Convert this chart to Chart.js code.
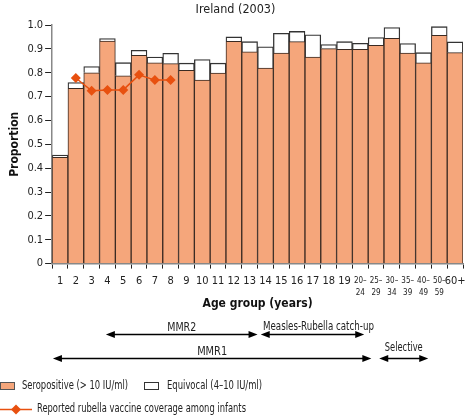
<!DOCTYPE html>
<html>
<head>
<meta charset="utf-8">
<script src="https://cdn.jsdelivr.net/npm/chart.js@4.4.0/dist/chart.umd.min.js"></script>
<style>
    body { margin: 0; background: #fff; }
    #wrap { width: 468px; height: 415px; }
</style>
</head>
<body>
<div id="wrap"><canvas id="chart" width="468" height="415"></canvas></div>
<script>
// Age groups on the x axis
const ageGroups = ['1', '2', '3', '4', '5', '6', '7', '8', '9', '10', '11', '12', '13',
    '14', '15', '16', '17', '18', '19', ['20–', '24'], ['25–', '29'], ['30–', '34'],
    ['35–', '39'], ['40–', '49'], ['50–', '59'], '60+'];

// Proportions
const seropositive = [0.445, 0.735, 0.800, 0.933, 0.787, 0.873, 0.841, 0.838, 0.810, 0.769,
    0.798, 0.932, 0.888, 0.819, 0.882, 0.930, 0.866, 0.901, 0.898, 0.898, 0.915, 0.944,
    0.882, 0.841, 0.957, 0.884];
const equivocal = [0.010, 0.024, 0.026, 0.010, 0.055, 0.021, 0.025, 0.043, 0.030, 0.086,
    0.042, 0.018, 0.042, 0.090, 0.083, 0.043, 0.093, 0.017, 0.032, 0.025, 0.032, 0.045,
    0.040, 0.043, 0.036, 0.045];
const coverage = [null, 0.778, 0.724, 0.728, 0.728, 0.791, 0.769, 0.769, null, null, null,
    null, null, null, null, null, null, null, null, null, null, null, null, null, null, null];

const yTicks = [0, 0.1, 0.2, 0.3, 0.4, 0.5, 0.6, 0.7, 0.8, 0.9, 1.0];

// Vaccination programmes shown under the axis (age-group index range)
const programmes = [
    {label: 'MMR2', from: 2.9, to: 12.5, row: 0},
    {label: 'Measles-Rubella catch-up', from: 12.7, to: 19.25, row: 0},
    {label: 'MMR1', from: -0.45, to: 19.7, row: 1},
    {label: 'Selective', from: 20.2, to: 23.3, row: 1},
];

const FONT = '"DejaVu Sans Condensed", "Liberation Sans", sans-serif';
const ORANGE = '#f5a67b';
const RED = '#e8500f';

// the original uses a narrow face, so squeeze text to the width it takes there
const fitText = (ctx, text, x, y, width) => {
    const w = ctx.measureText(text).width;
    ctx.save();
    ctx.translate(x, y);
    ctx.scale(Math.min(1, width / w), 1);
    ctx.fillText(text, 0, 0);
    ctx.restore();
};

const drawArrow = (ctx, x1, x2, y) => {
    const h = 9, w = 3.5;
    ctx.beginPath();
    ctx.moveTo(x1 + h - 1, y);
    ctx.lineTo(x2 - h + 1, y);
    ctx.lineWidth = 1.5;
    ctx.strokeStyle = '#000';
    ctx.stroke();
    ctx.beginPath();
    ctx.moveTo(x1, y);
    ctx.lineTo(x1 + h, y - w);
    ctx.lineTo(x1 + h, y + w);
    ctx.closePath();
    ctx.moveTo(x2, y);
    ctx.lineTo(x2 - h, y - w);
    ctx.lineTo(x2 - h, y + w);
    ctx.closePath();
    ctx.fillStyle = '#000';
    ctx.fill();
};

const labelWidths = {'MMR2': 29, 'Measles-Rubella catch-up': 111, 'MMR1': 30, 'Selective': 38};

const extrasPlugin = {
    id: 'extras',
    afterDraw(chart) {
        const ctx = chart.ctx;
        const x = chart.scales.x;
        ctx.save();
        ctx.font = '12px ' + FONT;
        ctx.textAlign = 'center';
        ctx.textBaseline = 'alphabetic';
        programmes.forEach(p => {
            const x1 = x.getPixelForValue(p.from);
            const x2 = x.getPixelForValue(p.to);
            const ay = p.row === 0 ? 334.5 : 358.5;
            let ty = p.row === 0 ? 331 : 355;
            let tx = (x1 + x2) / 2;
            if (p.label === 'Measles-Rubella catch-up') { tx += 6; ty -= 1; }
            if (p.label === 'Selective') { ty -= 4; }
            drawArrow(ctx, x1, x2, ay);
            ctx.fillStyle = '#222';
            fitText(ctx, p.label, tx, ty, labelWidths[p.label]);
        });

        // legend
        ctx.textAlign = 'left';
        ctx.textBaseline = 'middle';
        ctx.font = '12px ' + FONT;
        ctx.lineWidth = 1;
        ctx.fillStyle = ORANGE;
        ctx.fillRect(0.5, 382.5, 14, 7);
        ctx.strokeStyle = '#555';
        ctx.strokeRect(0.5, 382.5, 14, 7);
        ctx.fillStyle = '#222';
        fitText(ctx, 'Seropositive (> 10 IU/ml)', 22, 386, 106);
        ctx.fillStyle = '#fff';
        ctx.fillRect(144.5, 382.5, 14, 7);
        ctx.strokeStyle = '#333';
        ctx.strokeRect(144.5, 382.5, 14, 7);
        ctx.fillStyle = '#222';
        fitText(ctx, 'Equivocal (4–10 IU/ml)', 167, 386, 95);

        ctx.beginPath();
        ctx.moveTo(0, 409.5);
        ctx.lineTo(32, 409.5);
        ctx.lineWidth = 1.5;
        ctx.strokeStyle = RED;
        ctx.stroke();
        ctx.beginPath();
        ctx.moveTo(16, 404.5);
        ctx.lineTo(21, 409.5);
        ctx.lineTo(16, 414.5);
        ctx.lineTo(11, 409.5);
        ctx.closePath();
        ctx.fillStyle = RED;
        ctx.fill();
        ctx.fillStyle = '#222';
        fitText(ctx, 'Reported rubella vaccine coverage among infants', 37, 409, 209);
        ctx.restore();
    }
};

const tickFont = ctx => {
    const lab = ageGroups[ctx.index];
    if (Array.isArray(lab)) return {family: FONT, size: 8, lineHeight: 1.5};
    return {family: FONT, size: 11};
};

new Chart(document.getElementById('chart'), {
    type: 'bar',
    data: {
        labels: ageGroups,
        datasets: [
            {
                type: 'line',
                label: 'Reported rubella vaccine coverage among infants',
                data: coverage,
                borderColor: RED,
                backgroundColor: RED,
                borderWidth: 1.5,
                showLine: true,
                spanGaps: false,
                pointStyle: 'rectRot',
                pointRadius: 5,
                pointHoverRadius: 5,
                pointBorderWidth: 0,
                stack: 'line',
                order: 0,
            },
            {
                label: 'Seropositive (> 10 IU/ml)',
                data: seropositive,
                backgroundColor: ORANGE,
                borderColor: '#3a2a22',
                borderWidth: 1,
                barPercentage: 1,
                categoryPercentage: 1,
                stack: 'bars',
                order: 1,
            },
            {
                label: 'Equivocal (4–10 IU/ml)',
                data: equivocal,
                backgroundColor: '#fff',
                borderColor: '#333',
                borderWidth: 1.3,
                barPercentage: 1,
                categoryPercentage: 1,
                stack: 'bars',
                order: 1,
            },
        ],
    },
    options: {
        responsive: false,
        animation: false,
        events: [],
        layout: {padding: {left: 8, right: 5, top: 0, bottom: 104}},
        plugins: {
            legend: {display: false},
            tooltip: {enabled: false},
            title: {
                display: true,
                text: 'Ireland (2003)',
                color: '#222',
                font: {family: FONT, size: 12.5, weight: 'normal'},
                padding: {top: 2, bottom: 8},
            },
        },
        scales: {
            x: {
                stacked: true,
                offset: true,
                // let the "60+" label hang past the last bar like in the original
                afterFit: axis => { axis.paddingRight = 0; },
                grid: {display: true, drawOnChartArea: false, offset: true, tickLength: 5, color: '#222'},
                border: {color: '#888', width: 1.5},
                ticks: {
                    color: '#222',
                    padding: 6,
                    maxRotation: 0,
                    autoSkip: false,
                    font: tickFont,
                },
                title: {
                    display: true,
                    text: 'Age group (years)',
                    color: '#111',
                    font: {family: FONT, size: 12, weight: 'bold'},
                    padding: {top: -8, bottom: 0},
                },
            },
            y: {
                stacked: true,
                min: 0,
                max: 1,
                afterBuildTicks: axis => { axis.ticks = yTicks.map(v => ({value: v})); },
                grid: {display: true, drawOnChartArea: false, tickLength: 7, color: '#222'},
                border: {color: '#888', width: 1.5},
                ticks: {
                    color: '#222',
                    padding: 2,
                    font: {family: FONT, size: 11},
                    callback: v => v === 0 ? '0' : v.toFixed(1),
                },
                title: {
                    display: true,
                    text: 'Proportion',
                    color: '#111',
                    font: {family: FONT, size: 12, weight: 'bold'},
                    padding: {top: 0, bottom: 3},
                },
            },
        },
    },
    plugins: [extrasPlugin],
});
</script>
</body>
</html>
